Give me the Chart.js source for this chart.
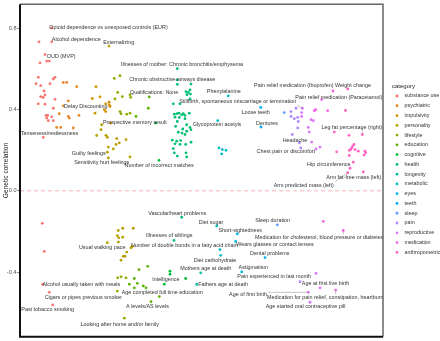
<!DOCTYPE html>
<html>
<head>
<meta charset="utf-8">
<script src="https://cdn.jsdelivr.net/npm/chart.js@4.4.1/dist/chart.umd.min.js"></script>
<style>
  html, body { margin: 0; padding: 0; background: #fff; }
</style>
</head>
<body>
<canvas id="gcChart" width="440" height="341"></canvas>
<script>
// categories, in legend order
const categories = ['substance use', 'psychiatric', 'impulsivity', 'personality', 'lifestyle',
  'education', 'cognitive', 'health', 'longevity', 'metabolic', 'eyes', 'teeth', 'sleep',
  'pain', 'reproductive', 'medication', 'anthropometric'];

const yTicks = [-0.4, 0.0, 0.4, 0.8];

// unlabelled traits per category: [position, genetic correlation]
const substanceUse = [[1.90,0.733],[2.00,0.629],[2.67,0.638],[2.93,0.638],[1.83,0.558],[3.50,0.558],[3.33,0.550],
  [1.60,0.527],[3.00,0.527],[2.07,0.517],[2.40,0.491],[2.50,0.472],[2.07,0.463],[2.33,0.459],[3.50,0.450],
  [1.83,0.428],[2.50,0.426],[3.33,0.406],[2.60,0.371],[2.77,0.371],[2.67,0.358],[3.17,0.364],[2.83,0.345],
  [3.33,0.345],[2.23,-0.160],[2.43,-0.298]];
const psychiatric = [[4.33,0.533],[4.67,0.533],[5.67,0.512],[4.83,0.442],[4.33,0.418],[3.93,0.379],[4.83,0.366],
  [4.93,0.358],[5.90,0.371],[3.67,0.312],[4.07,0.312],[5.33,0.309]];
const impulsivity = [[7.60,0.512],[8.00,0.462],[7.23,0.454],[8.93,0.423],[9.00,0.415],[8.57,0.428],[7.50,0.382],
  [8.43,0.399],[8.57,0.390],[9.07,0.333]];
const personality = [[8.17,0.325],[8.10,0.301],[7.67,0.272],[8.60,0.273],[8.73,0.263],[9.67,0.257],[10.60,0.252],
  [9.93,0.236],[9.60,0.228],[8.83,0.215],[9.33,0.206],[11.00,0.167],[9.83,-0.195],[10.27,-0.184],[9.73,-0.220],
  [9.87,-0.231],[9.83,-0.252],[10.27,-0.228],[11.33,-0.184],[11.10,-0.280],[11.23,-0.273],[10.67,-0.301],
  [10.50,-0.322],[10.33,-0.322],[10.10,-0.341]];
const lifestyle = [[9.43,0.553],[10.00,0.566],[9.77,0.484],[10.23,0.463],[9.50,0.452],[11.00,0.472],[11.07,0.460],
  [10.00,0.390],[10.10,0.379],[10.67,0.377],[11.00,0.382],[9.77,-0.428],[10.10,-0.423],[10.60,-0.428],[9.73,-0.493]];
const education = [[12.83,0.406],[11.60,0.366],[11.90,-0.387],[12.77,-0.371],[11.43,-0.431],[11.73,-0.455],
  [10.93,-0.459],[11.43,-0.477],[12.33,-0.468],[12.60,-0.477]];
const cognitive = [[15.00,-0.395],[15.00,-0.410],[16.57,-0.431]];
const health = [[15.73,0.524],[17.10,0.525],[16.60,0.488],[16.83,0.484],[17.00,0.496],[16.70,0.473],[17.05,0.476],
  [15.33,0.428],[16.00,0.428],[17.00,0.452],[15.43,0.377],[15.70,0.380],[15.90,0.382],[16.17,0.374],[16.33,0.379],
  [16.50,0.371],[15.50,0.362],[15.93,0.361],[16.50,0.355],[16.93,0.382],[15.73,0.341],[16.67,0.325],[15.57,0.317],
  [16.27,0.304],[17.00,0.312],[17.10,0.301],[16.67,0.293],[16.20,0.284],[15.83,0.288],[16.50,0.277],[15.23,0.249],
  [15.67,0.244],[16.07,0.247],[17.10,0.239],[15.50,0.231],[16.00,0.228],[16.57,0.228],[15.33,0.208],[16.60,0.187],
  [15.43,0.187],[15.73,0.171],[16.67,0.167]];
const longevity = [];
const metabolic = [[19.90,0.211],[20.23,0.203],[20.60,0.199],[20.17,0.182]];
const eyes = [];
const teeth = [];
const sleep = [[26.43,0.385]];
const pain = [[27.10,0.390],[27.60,0.406],[27.10,0.366],[27.77,0.361],[27.43,0.355],[27.83,0.341],[27.77,0.309],
  [27.93,0.236]];
const reproductive = [[28.17,0.385],[28.17,0.366],[28.83,0.312],[28.93,0.289],[29.10,0.350],[29.33,0.345],
  [29.17,0.240],[29.60,0.206],[30.00,0.215],[29.60,-0.406]];
const medication = [[29.43,0.394],[29.57,0.399],[30.77,0.394],[30.33,-0.150]];
const anthropometric = [[32.55,0.395],[31.43,0.289],[32.90,0.273],[33.40,0.228],[33.27,0.220],[33.17,0.211],
  [33.07,0.203],[32.93,0.199],[33.50,0.203],[33.83,0.195],[34.50,0.195],[34.57,0.187],[34.40,0.176],[31.67,0.192],
  [32.93,0.174],[33.00,0.111]];

// labelled traits: point (x, y) and where the repelled label sits (lx, ly), same units
const labelled = [
  {t: 'Opioid dependence vs unexposed controls (EUR)', c: 'substance use', x: 3.17, y: 0.801, lx: 8.85, ly: 0.801},
  {t: 'Alcohol dependence', c: 'substance use', x: 3.17, y: 0.733, lx: 5.63, ly: 0.746},
  {t: 'OUD (MVP)', c: 'substance use', x: 2.50, y: 0.670, lx: 4.12, ly: 0.659},
  {t: 'Tenseness/restlessness', c: 'substance use', x: 2.33, y: 0.263, lx: 2.95, ly: 0.284},
  {t: 'Alcohol usually taken with meals', c: 'substance use', x: 2.27, y: -0.460, lx: 6.13, ly: -0.462},
  {t: 'Cigars or pipes previous smoker', c: 'substance use', x: 2.93, y: -0.499, lx: 6.33, ly: -0.523},
  {t: 'Past tobacco smoking', c: 'substance use', x: 3.27, y: -0.561, lx: 2.77, ly: -0.582},
  {t: 'Delay Discounting', c: 'impulsivity', x: 8.90, y: 0.436, lx: 6.58, ly: 0.413, lead: true},
  {t: 'Externalizing', c: 'personality', x: 8.90, y: 0.712, lx: 9.87, ly: 0.730},
  {t: 'Guilty feelings', c: 'personality', x: 8.73, y: 0.190, lx: 6.88, ly: 0.182},
  {t: 'Sensitivity hurt feelings', c: 'personality', x: 8.83, y: 0.162, lx: 8.17, ly: 0.138},
  {t: 'Usual walking pace', c: 'personality', x: 8.73, y: -0.255, lx: 8.22, ly: -0.280},
  {t: 'Looking after home and/or family', c: 'lifestyle', x: 10.43, y: -0.626, lx: 9.97, ly: -0.655},
  {t: 'Qualifications: None', c: 'education', x: 12.93, y: 0.462, lx: 13.42, ly: 0.484},
  {t: 'A levels/AS levels', c: 'education', x: 13.10, y: -0.545, lx: 12.75, ly: -0.569},
  {t: 'Age completed full time education', c: 'education', x: 13.93, y: -0.520, lx: 14.22, ly: -0.501},
  {t: 'Prospective memory result', c: 'cognitive', x: 13.57, y: 0.333, lx: 11.48, ly: 0.337},
  {t: 'Number of incorrect matches', c: 'cognitive', x: 13.90, y: 0.150, lx: 13.92, ly: 0.125},
  {t: 'Intelligence', c: 'cognitive', x: 14.43, y: -0.459, lx: 14.58, ly: -0.436},
  {t: 'Illnesses of mother: Chronic bronchitis/emphysema', c: 'health', x: 15.73, y: 0.601, lx: 16.20, ly: 0.623},
  {t: 'Chronic obstructive airways disease', c: 'health', x: 15.70, y: 0.546, lx: 15.22, ly: 0.546},
  {t: 'Vascular/heart problems', c: 'health', x: 16.17, y: -0.130, lx: 15.72, ly: -0.111},
  {t: 'Illnesses of siblings', c: 'health', x: 15.40, y: -0.244, lx: 14.92, ly: -0.220},
  {t: 'Mothers age at death', c: 'longevity', x: 18.07, y: -0.403, lx: 18.58, ly: -0.382},
  {t: 'Fathers age at death', c: 'longevity', x: 17.67, y: -0.460, lx: 20.30, ly: -0.460},
  {t: 'Phenylalanine', c: 'metabolic', x: 20.83, y: 0.467, lx: 20.38, ly: 0.488},
  {t: 'Glycoprotein acetyls', c: 'metabolic', x: 19.77, y: 0.345, lx: 19.70, ly: 0.325},
  {t: 'Diet sugar', c: 'metabolic', x: 19.67, y: -0.173, lx: 19.10, ly: -0.155},
  {t: 'Number of double bonds in a fatty acid chain', c: 'metabolic', x: 20.00, y: -0.289, lx: 16.43, ly: -0.268},
  {t: 'Diet carbohydrate', c: 'metabolic', x: 20.07, y: -0.317, lx: 19.50, ly: -0.341},
  {t: 'Short-sightedness', c: 'eyes', x: 21.73, y: -0.212, lx: 22.02, ly: -0.195},
  {t: 'Wears glasses or contact lenses', c: 'eyes', x: 21.57, y: -0.249, lx: 25.50, ly: -0.265},
  {t: 'Astigmatism', c: 'eyes', x: 22.17, y: -0.399, lx: 23.33, ly: -0.379},
  {t: 'Loose teeth', c: 'teeth', x: 24.07, y: 0.410, lx: 23.57, ly: 0.387},
  {t: 'Dentures', c: 'teeth', x: 24.10, y: 0.314, lx: 24.70, ly: 0.333},
  {t: 'Dental problems', c: 'teeth', x: 24.50, y: -0.328, lx: 24.97, ly: -0.306},
  {t: 'Sleep duration', c: 'sleep', x: 25.73, y: -0.167, lx: 25.27, ly: -0.146},
  {t: 'Headache', c: 'pain', x: 27.23, y: 0.277, lx: 27.50, ly: 0.249},
  {t: 'Chest pain or discomfort', c: 'pain', x: 28.07, y: 0.211, lx: 26.58, ly: 0.192},
  {t: 'Pain experienced in last month', c: 'pain', x: 28.00, y: -0.447, lx: 25.42, ly: -0.420},
  {t: 'Stillbirth, spontaneous miscarriage or termination', c: 'reproductive', x: 28.23, y: 0.406, lx: 21.77, ly: 0.438, lead: true},
  {t: 'Age at first live birth', c: 'reproductive', x: 30.00, y: -0.477, lx: 30.55, ly: -0.455},
  {t: 'Age of first birth', c: 'reproductive', x: 28.83, y: -0.499, lx: 22.80, ly: -0.509, lead: true},
  {t: 'Age started oral contraceptive pill', c: 'reproductive', x: 29.00, y: -0.548, lx: 28.55, ly: -0.569},
  {t: 'Pain relief medication (Ibuprofen)', c: 'medication', x: 31.30, y: 0.491, lx: 27.38, ly: 0.516},
  {t: 'Pain relief medication (Paracetamol)', c: 'medication', x: 30.17, y: 0.449, lx: 31.88, ly: 0.459},
  {t: 'Medication for cholesterol, blood pressure or diabetes', c: 'medication', x: 32.33, y: -0.195, lx: 29.92, ly: -0.231, lead: true},
  {t: 'Medication for pain relief, constipation, heartburn', c: 'medication', x: 31.57, y: -0.488, lx: 30.53, ly: -0.525, lead: true},
  {t: 'Weight change', c: 'anthropometric', x: 32.77, y: 0.501, lx: 33.30, ly: 0.520},
  {t: 'Leg fat percentage (right)', c: 'anthropometric', x: 34.23, y: 0.277, lx: 33.17, ly: 0.312, lead: true},
  {t: 'Hip circumference', c: 'anthropometric', x: 33.33, y: 0.141, lx: 30.88, ly: 0.127},
  {t: 'Arm predicted mass (left)', c: 'anthropometric', x: 32.77, y: 0.089, lx: 28.38, ly: 0.028, lead: true},
  {t: 'Arm fat-free mass (left)', c: 'anthropometric', x: 34.33, y: 0.093, lx: 33.38, ly: 0.065}
];

const seriesByCategory = [substanceUse, psychiatric, impulsivity, personality, lifestyle, education, cognitive,
  health, longevity, metabolic, eyes, teeth, sleep, pain, reproductive, medication, anthropometric];

// ggplot default hue palette for 17 levels
const palette = ['#F8766D', '#E88526', '#D39200', '#B79F00', '#93AA00', '#5EB300', '#00BA38', '#00BF74',
  '#00C19F', '#00BFC4', '#00B9E3', '#00ADFA', '#619CFF', '#AE87FF', '#DB72FB', '#F564E3', '#FF61C3'];

const fontFamily = '"Liberation Sans", Arial, sans-serif';

const datasets = categories.map((cat, i) => ({
    label: cat,
    data: seriesByCategory[i].map(([x, y]) => ({x, y}))
        .concat(labelled.filter(l => l.c === cat).map(l => ({x: l.x, y: l.y}))),
    backgroundColor: palette[i],
    pointRadius: 1.4,
    pointBorderWidth: 0,
    pointHoverRadius: 1.4
}));

// dashed reference line at zero
const zeroLine = {
    id: 'zeroLine',
    beforeDatasetsDraw(chart) {
        const {ctx, chartArea: a, scales: {y}} = chart;
        const py = y.getPixelForValue(0);
        ctx.save();
        ctx.strokeStyle = '#f1a0a0';
        ctx.lineWidth = 0.8;
        ctx.setLineDash([4, 3]);
        ctx.beginPath();
        ctx.moveTo(a.left, py);
        ctx.lineTo(a.right, py);
        ctx.stroke();
        ctx.restore();
    }
};

// repelled text labels with leader segments
const pointLabels = {
    id: 'pointLabels',
    afterDatasetsDraw(chart) {
        const {ctx, scales: {x, y}} = chart;
        ctx.save();
        ctx.font = '5.4px ' + fontFamily;
        ctx.textAlign = 'center';
        ctx.textBaseline = 'middle';
        labelled.forEach(l => {
            const px = x.getPixelForValue(l.x), py = y.getPixelForValue(l.y);
            const lx = x.getPixelForValue(l.lx), ly = y.getPixelForValue(l.ly);
            if (l.lead) {
                const w = ctx.measureText(l.t).width / 2 + 1, h = 3.5;
                const cx = Math.max(lx - w, Math.min(px, lx + w));
                const cy = Math.max(ly - h, Math.min(py, ly + h));
                ctx.strokeStyle = '#888';
                ctx.lineWidth = 0.5;
                ctx.beginPath();
                ctx.moveTo(cx, cy);
                ctx.lineTo(px, py);
                ctx.stroke();
            }
            ctx.fillStyle = '#333';
            ctx.fillText(l.t, lx, ly);
        });
        ctx.restore();
    }
};

// panel border and legend on the right
const frameAndLegend = {
    id: 'frameAndLegend',
    afterDraw(chart) {
        const {ctx, chartArea: a} = chart;
        ctx.save();
        ctx.lineWidth = 1.5;
        ctx.strokeStyle = '#666';
        ctx.beginPath();
        ctx.moveTo(a.left, a.top);
        ctx.lineTo(a.right, a.top);
        ctx.lineTo(a.right, a.bottom);
        ctx.stroke();
        ctx.lineWidth = 2;
        ctx.strokeStyle = '#111';
        ctx.beginPath();
        ctx.moveTo(a.left, a.top);
        ctx.lineTo(a.left, a.bottom);
        ctx.lineTo(a.right, a.bottom);
        ctx.stroke();

        const left = a.right + 9;
        ctx.fillStyle = '#222';
        ctx.font = '6px ' + fontFamily;
        ctx.textBaseline = 'middle';
        ctx.fillText('category', left, 86);
        ctx.font = '5.4px ' + fontFamily;
        categories.forEach((cat, i) => {
            const cy = 96 + i * 9.77;
            ctx.fillStyle = palette[i];
            ctx.beginPath();
            ctx.arc(left + 5, cy, 1.4, 0, Math.PI * 2);
            ctx.fill();
            ctx.fillStyle = '#333';
            ctx.fillText(cat, left + 12.5, cy);
        });
        ctx.restore();
    }
};

const ctx = document.getElementById('gcChart').getContext('2d');
const gcChart = new Chart(ctx, {
    type: 'scatter',
    data: { datasets },
    options: {
        responsive: false,
        animation: false,
        devicePixelRatio: 1,
        events: [],
        layout: { padding: { left: 0, right: 57, top: 2, bottom: 4 } },
        plugins: {
            legend: { display: false },
            tooltip: { enabled: false }
        },
        scales: {
            x: { type: 'linear', min: 0, max: 36.3, display: false },
            y: {
                min: -0.717,
                max: 0.917,
                afterFit(scale) { scale.width = 20; },
                afterBuildTicks(scale) { scale.ticks = yTicks.map(v => ({ value: v })); },
                ticks: {
                    callback: v => v.toFixed(1),
                    font: { size: 5.6, family: fontFamily },
                    color: '#555',
                    padding: 1
                },
                grid: { drawOnChartArea: false, tickLength: 2.5, tickColor: '#444', tickWidth: 0.8 },
                border: { display: false },
                title: {
                    display: true,
                    text: 'Genetic correlation',
                    font: { size: 6.6, family: fontFamily },
                    color: '#222',
                    padding: { top: 2, bottom: 0 }
                }
            }
        }
    },
    plugins: [zeroLine, pointLabels, frameAndLegend]
});
</script>
</body>
</html>
